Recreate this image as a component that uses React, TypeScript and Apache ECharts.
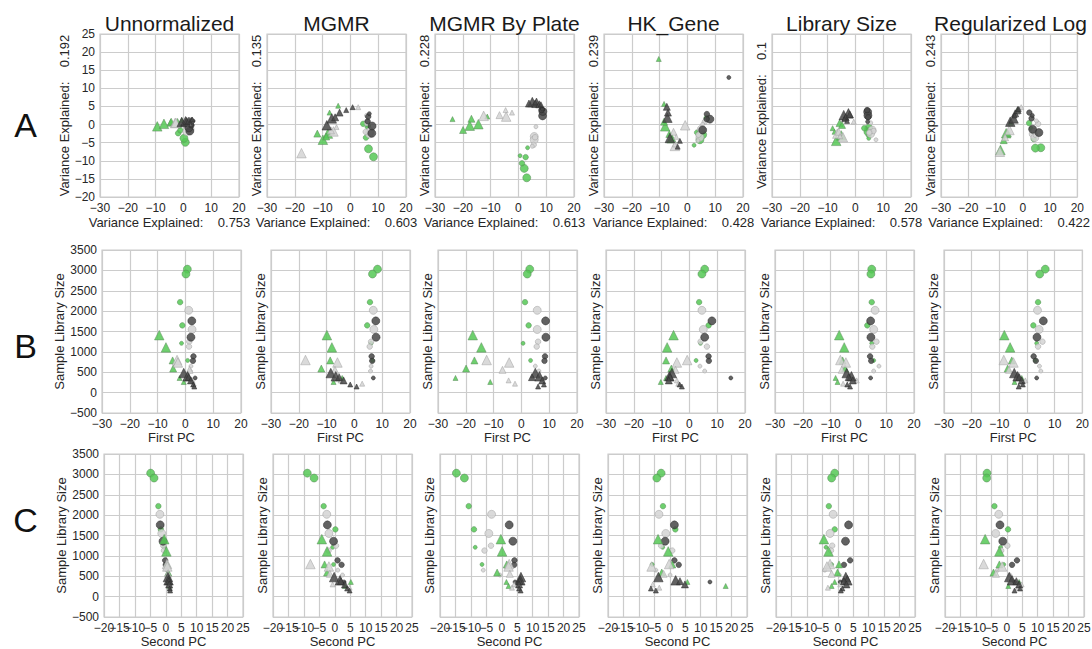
import React, { useEffect, useRef } from "react";
import * as echarts from "echarts";

// ---------- DATA ----------
const methods = ["Unnormalized", "MGMR", "MGMR By Plate", "HK_Gene", "Library Size", "Regularized Log"];
const varExplainedPC1 = ["0.753", "0.603", "0.613", "0.428", "0.578", "0.422"];
const varExplainedPC2 = ["0.192", "0.135", "0.228", "0.239", "0.1", "0.243"];
const rowLetters = ["A", "B", "C"];
const secondPCTicks = [-20, -15, -10, -5, 0, 5, 10, 15, 20, 25];

// sample attributes: colour group (g = green, l = light grey, d = dark grey), shape, size class
const sampleGroup = ["g","g","g","g","g","g","l","l","l","l","l","l","d","d","d","d","d","g","g","g","g","g","g","l","l","l","l","l","d","d","d","d","d","d"];
const sampleShape = ["c","c","c","c","c","c","c","c","c","c","c","c","c","c","c","c","c","t","t","t","t","t","t","t","t","t","t","t","t","t","t","t","t","t"];
const sampleSize = ["L","L","M","M","S","S","L","L","M","M","S","S","L","L","M","M","S","L","L","M","M","S","S","L","L","M","S","S","L","L","M","M","S","S"];
const libSize = [3030, 2910, 2220, 1650, 1210, 790, 2020, 1550, 1250, 1130, 650, 530, 1760, 1360, 890, 780, 360, 1410, 1110, 790, 590, 360, 260, 800, 740, 560, 300, 220, 480, 400, 380, 300, 200, 150];

const unnormPC1 = [0.7, 0.2, -1.9, -1.1, -1.4, 0.8, 1.2, 2.4, 1.4, 1.3, 2.0, 1.8, 2.3, 2.0, 2.9, 2.7, 3.5, -9.4, -7.0, -4.6, -4.4, -2.1, -0.6, -3.0, -2.7, 1.5, 2.5, 3.0, -0.6, 0.8, 1.2, 2.0, 2.8, 3.2];
const unnormPC2 = [-4.9, -3.8, -2.4, -1.6, -0.5, 0.0, -1.9, -1.3, -0.8, -0.6, 0.3, 0.5, -1.8, -0.9, -0.2, 0.0, 1.0, -0.5, 0.2, 0.5, 0.8, 1.0, 1.2, 0.4, 0.5, 0.7, 1.1, 1.3, 0.7, 0.9, 1.0, 1.1, 1.3, 1.4];

const mgmrPC1 = [8.3, 6.5, 5.6, 4.6, 6.0, 6.5, 6.8, 7.0, 6.0, 5.5, 6.0, 5.8, 7.7, 7.8, 6.2, 6.4, 6.8, -9.9, -8.1, -8.7, -11.9, -4.4, -7.5, -17.6, -6.1, -7.0, -5.0, 2.8, -8.5, -6.7, -5.5, -3.9, -1.5, 0.8];
const mgmrPC2 = [-8.9, -6.7, -3.6, 0.2, -0.7, -0.4, -2.6, -1.9, 0.4, -2.0, 1.0, 2.5, -2.4, -0.4, 0.9, 2.2, 3.0, -4.2, -2.5, -3.3, -2.5, 5.2, 3.3, -7.9, -1.9, -1.6, -0.7, 4.8, -0.2, 1.7, 2.0, 3.3, 4.0, 4.8];

const platePC1 = [3.0, 2.1, 1.3, 2.6, 0.6, 3.3, 5.7, 5.7, 6.0, 5.5, 5.0, 6.3, 8.7, 8.8, 8.5, 8.3, 8.6, -17.5, -14.4, -16.9, -19.9, -23.7, -11.2, -12.5, -4.4, -6.8, -4.6, -2.3, 5.0, 6.5, 3.8, 7.5, 8.1, 6.0];
const platePC2 = [-14.7, -12.1, -10.7, -9.0, -8.6, -6.4, -3.3, -4.2, -3.5, -5.6, -6.0, -0.6, 2.4, 3.6, 4.1, 4.0, 4.3, -0.3, 0.1, 1.6, -1.5, 1.5, 2.2, 2.4, 2.2, 2.6, 4.0, 3.3, 6.2, 6.0, 5.8, 5.6, 5.6, 6.1];

const hkPC1 = [5.5, 4.5, 3.5, 6.9, 4.0, 2.4, 4.5, 5.0, 4.0, 6.3, 3.8, 5.5, 8.1, 5.5, 6.9, 7.0, 14.9, -5.7, -8.0, -8.4, -6.5, -8.4, -10.3, -0.8, -4.5, -5.0, -4.5, -4.0, -6.3, -7.2, -7.0, -7.4, -3.5, -2.7];
const hkPC2 = [-2.8, -4.2, -2.2, 1.8, -2.3, -5.7, -3.5, -1.3, -2.8, 0.8, -4.5, 0.1, 1.5, -1.5, 1.5, 2.9, 13.0, -3.8, -0.5, 0.8, -2.6, 5.7, 18.1, -0.2, -5.9, -2.0, -5.5, -3.4, -3.7, 1.9, 3.3, 4.9, -6.1, -4.5];

const libPC1 = [4.8, 4.5, 4.8, 3.2, 4.8, 5.5, 6.0, 5.5, 6.5, 5.0, 7.4, 5.5, 4.4, 4.5, 4.2, 4.6, 4.4, -6.9, -5.1, -5.7, -4.8, -8.2, -7.5, -6.5, -4.5, -6.0, -0.6, -5.5, -4.2, -2.5, -3.5, -2.0, -4.0, -3.0];
const libPC2 = [-1.0, -2.0, -2.9, -1.0, -3.8, -2.0, -1.5, -2.5, -1.8, -2.2, -4.2, 0.5, 3.5, 2.5, 4.0, 2.0, 0.8, -4.5, -3.0, 0.4, -0.1, -1.0, -2.0, -2.5, -3.5, -2.0, 0.8, -3.2, 2.6, 3.1, 2.0, 2.8, 1.5, 1.0];

const rlogPC1 = [6.6, 4.6, 4.0, 2.3, 3.5, 3.0, 3.8, 4.4, 5.6, 4.0, 4.5, 5.0, 5.9, 3.6, 2.4, 3.2, 3.5, -8.2, -6.1, -5.5, -7.0, -1.9, -4.5, -8.4, -4.9, -6.5, -0.6, -2.0, -4.6, -3.4, -2.8, -1.9, -1.5, -3.0];
const rlogPC2 = [-6.4, -6.5, -4.0, 0.4, -2.0, -1.0, -2.6, -3.6, 0.2, -1.8, -3.0, 1.0, -2.2, -1.3, 3.3, 1.7, 2.5, -7.0, -2.4, -2.4, -4.3, 4.0, 0.5, -7.5, -1.5, -3.5, 4.8, 3.5, 0.8, 1.7, 3.1, 4.0, 4.3, 2.5];

const methodPC1 = [unnormPC1, mgmrPC1, platePC1, hkPC1, libPC1, rlogPC1];
const methodPC2 = [unnormPC2, mgmrPC2, platePC2, hkPC2, libPC2, rlogPC2];

// ---------- STYLE / LAYOUT ----------
const FONT = "'Liberation Sans', Arial, Helvetica, sans-serif";
const TXT = "#262626";
const GRIDC = "#cccccc";
const rowLefts = [
  [100, 267, 435, 604, 772, 941],
  [102, 271, 438, 606, 775, 944],
  [104, 273, 440, 608, 776, 945],
];
const rowTops = [34, 250, 454];
const PW = 139;
const PH = 163;
const letterY = [125, 346, 520];

const groupFill: Record<string, string> = { g: "#55c855", l: "#d4d4d4", d: "#464646" };
const groupEdge: Record<string, string> = { g: "#5a8a5a", l: "#a0a0a0", d: "#2a2a2a" };
const circleSize: Record<string, number> = { L: 8, M: 5.5, S: 4 };
const triSize: Record<string, number> = { L: 9.5, M: 7, S: 5 };

const fmt = (v: number) => String(v).replace("-", "\u2212");
const nb = (s: string) => s.replace(/ /g, "\u00a0");

function buildOption() {
  const grid: any[] = [];
  const xAxis: any[] = [];
  const yAxis: any[] = [];
  const series: any[] = [];

  for (let r = 0; r < 3; r++) {
    for (let c = 0; c < 6; c++) {
      const idx = r * 6 + c;
      grid.push({
        left: rowLefts[r][c], top: rowTops[r], width: PW, height: PH,
        show: true, borderColor: GRIDC, borderWidth: 1.2, backgroundColor: "#ffffff",
      });
      const xr = r === 2
        ? { min: secondPCTicks[0], max: secondPCTicks[secondPCTicks.length - 1], interval: 5 }
        : { min: -30, max: 20, interval: 10 };
      const yr = r === 0 ? { min: -20, max: 25, interval: 5 } : { min: -500, max: 3500, interval: 500 };
      const xName = r === 0 ? nb("Variance Explained:    " + varExplainedPC1[c]) : r === 1 ? "First PC" : "Second PC";
      const yName = r === 0 ? nb("Variance Explained:    " + varExplainedPC2[c]) : "Sample Library Size";
      const xGap = r === 0 ? 19 : r === 1 ? 17 : 18;
      const yGap = c === 0 ? (r === 0 ? 24 : 33) : 4;
      xAxis.push({
        gridIndex: idx, type: "value", position: "bottom", ...xr,
        axisLine: { show: false }, axisTick: { show: false },
        splitLine: { show: true, lineStyle: { color: GRIDC, width: 1.2 } },
        axisLabel: {
          // row C labels are crowded; they are drawn below at the axis' own pixel positions
          show: r !== 2,
          color: TXT, fontSize: 12, fontFamily: FONT, margin: 5, formatter: fmt,
          showMinLabel: true, showMaxLabel: true,
        },
        name: xName, nameLocation: "middle", nameGap: xGap,
        nameTextStyle: { color: TXT, fontSize: 13, fontFamily: FONT },
      });
      yAxis.push({
        gridIndex: idx, type: "value", ...yr,
        axisLine: { show: false }, axisTick: { show: false },
        splitLine: { show: true, lineStyle: { color: GRIDC, width: 1.2 } },
        axisLabel: {
          show: c === 0, color: TXT, fontSize: 12, fontFamily: FONT, margin: 5, formatter: fmt,
          showMinLabel: true, showMaxLabel: true,
        },
        name: yName, nameLocation: "middle", nameGap: yGap,
        nameTextStyle: { color: TXT, fontSize: 13, fontFamily: FONT },
      });
      const p1 = methodPC1[c];
      const p2 = methodPC2[c];
      const data = libSize.map((lib, i) => {
        const value = r === 0 ? [p1[i], p2[i]] : r === 1 ? [p1[i], lib] : [p2[i], lib];
        const isTri = sampleShape[i] === "t";
        return {
          value,
          symbol: isTri ? "triangle" : "circle",
          symbolSize: isTri ? triSize[sampleSize[i]] : circleSize[sampleSize[i]],
          itemStyle: {
            color: groupFill[sampleGroup[i]],
            borderColor: groupEdge[sampleGroup[i]],
            borderWidth: 0.6,
            opacity: 0.85,
          },
        };
      });
      series.push({
        type: "scatter", xAxisIndex: idx, yAxisIndex: idx, data,
        silent: true,
      });
    }
  }

  return { animation: false, backgroundColor: "#ffffff", grid, xAxis, yAxis, series };
}

function buildGraphic(chart: echarts.ECharts) {
  const graphic: any[] = [];
  for (let c = 0; c < 6; c++) {
    graphic.push({
      type: "text", id: "title" + c, x: rowLefts[0][c] + PW / 2, y: 23.5, z: 100,
      style: {
        text: methods[c], fill: "#1a1a1a", font: `21px ${FONT}`,
        textAlign: "center", textVerticalAlign: "middle", align: "center", verticalAlign: "middle",
      },
    });
  }
  for (let r = 0; r < 3; r++) {
    graphic.push({
      type: "text", id: "letter" + r, x: 25.5, y: letterY[r], z: 100,
      style: {
        text: rowLetters[r], fill: "#111111", font: `34px ${FONT}`,
        textAlign: "center", textVerticalAlign: "middle", align: "center", verticalAlign: "middle",
      },
    });
  }
  // Second-PC tick labels, placed with the axis' own scale
  for (let c = 0; c < 6; c++) {
    const idx = 12 + c;
    secondPCTicks.forEach((v, k) => {
      const pt = chart.convertToPixel({ xAxisIndex: idx, yAxisIndex: idx } as any, [v, -500]) as number[];
      if (!pt) return;
      graphic.push({
        type: "text", id: `ct${c}_${k}`, x: pt[0], y: pt[1] + 5, z: 50,
        style: {
          text: fmt(v), fill: TXT, font: `12px ${FONT}`,
          textAlign: "center", textVerticalAlign: "top", align: "center", verticalAlign: "top",
        },
      });
    });
  }
  return graphic;
}

export default function App() {
  const ref = useRef<HTMLDivElement>(null);
  useEffect(() => {
    if (!ref.current) return;
    const chart = echarts.init(ref.current, undefined, { renderer: "svg" });
    chart.setOption(buildOption() as any);
    chart.setOption({ graphic: buildGraphic(chart) } as any);
    return () => chart.dispose();
  }, []);
  return (
    <div
      ref={ref}
      style={{ position: "fixed", left: 0, top: 0, width: 1092, height: 649, background: "#fff" }}
    />
  );
}
